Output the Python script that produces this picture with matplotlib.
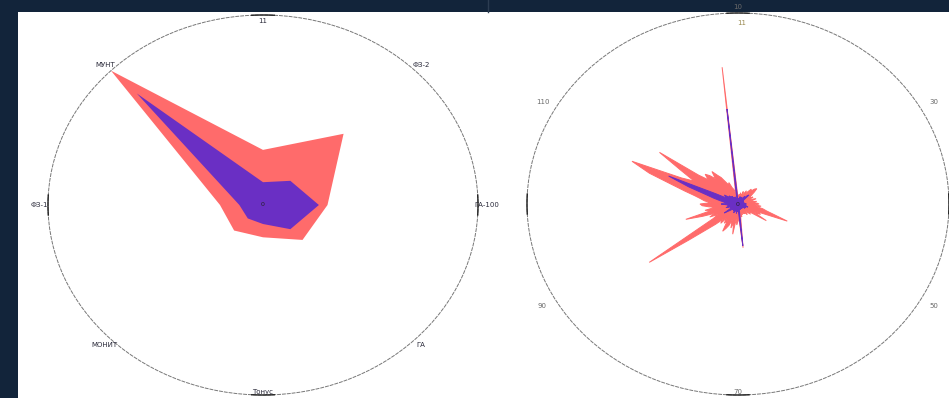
import numpy as np
import matplotlib.pyplot as plt
from matplotlib.patches import Rectangle
from matplotlib.lines import Line2D

# left radar: 8 axes
left_labels = ['11', 'ФЗ-2', 'ГА-100', 'ГА', 'Тонус', 'МОНИТ', 'ФЗ-1', 'МУНТ']
left_red = [29, 53, 30, 26, 17, 19, 20, 100]
left_purple = [12, 18, 26, 18, 10, 10, 11, 83]

# right radar: 120 axes
right_labels = {0: '10', 20: '30', 40: '50', 60: '70', 80: '90', 100: '110'}
right_red = [
    0.04, 0.03, 0.05, 0.04, 0.06, 0.05, 0.04, 0.07, 0.05, 0.06,
    0.08, 0.06, 0.08, 0.10, 0.09, 0.11, 0.12, 0.10, 0.08, 0.07,
    0.06, 0.08, 0.05, 0.07, 0.09, 0.07, 0.06, 0.09, 0.07, 0.09,
    0.10, 0.08, 0.11, 0.09, 0.12, 0.14, 0.18, 0.25, 0.10, 0.12,
    0.09, 0.16, 0.08, 0.06, 0.08, 0.06, 0.05, 0.07, 0.06, 0.05,
    0.06, 0.04, 0.05, 0.06, 0.05, 0.07, 0.06, 0.09, 0.23, 0.07,
    0.09, 0.11, 0.08, 0.16, 0.10, 0.13, 0.09, 0.12, 0.14, 0.16,
    0.10, 0.12, 0.09, 0.13, 0.11, 0.15, 0.20, 0.30, 0.52, 0.14,
    0.11, 0.15, 0.12, 0.18, 0.26, 0.13, 0.16, 0.11, 0.14, 0.17,
    0.18, 0.13, 0.16, 0.18, 0.21, 0.26, 0.33, 0.45, 0.55, 0.30,
    0.24, 0.32, 0.46, 0.24, 0.19, 0.22, 0.20, 0.17, 0.21, 0.18,
    0.16, 0.13, 0.11, 0.12, 0.09, 0.08, 0.06, 0.09, 0.72, 0.06,
]
right_purple = [
    0.03, 0.02, 0.03, 0.02, 0.03, 0.04, 0.03, 0.02, 0.03, 0.04,
    0.03, 0.02, 0.04, 0.05, 0.04, 0.06, 0.07, 0.04, 0.03, 0.02,
    0.03, 0.02, 0.02, 0.03, 0.02, 0.03, 0.02, 0.03, 0.02, 0.03,
    0.04, 0.03, 0.02, 0.03, 0.04, 0.03, 0.05, 0.04, 0.03, 0.04,
    0.03, 0.04, 0.03, 0.02, 0.03, 0.02, 0.03, 0.02, 0.03, 0.02,
    0.03, 0.02, 0.03, 0.02, 0.03, 0.02, 0.03, 0.05, 0.22, 0.04,
    0.03, 0.04, 0.03, 0.05, 0.03, 0.04, 0.03, 0.04, 0.05, 0.04,
    0.03, 0.04, 0.03, 0.04, 0.03, 0.04, 0.05, 0.06, 0.08, 0.04,
    0.03, 0.04, 0.03, 0.05, 0.06, 0.04, 0.05, 0.04, 0.05, 0.06,
    0.08, 0.05, 0.06, 0.07, 0.09, 0.12, 0.16, 0.25, 0.36, 0.12,
    0.06, 0.07, 0.08, 0.06, 0.05, 0.06, 0.05, 0.04, 0.05, 0.04,
    0.04, 0.03, 0.03, 0.04, 0.03, 0.03, 0.02, 0.05, 0.50, 0.03,
]

red = '#ff6b6b'
purple = '#6a2fc4'

fig = plt.figure(figsize=(9.49, 3.98), dpi=100)
fig.patch.set_facecolor('#12243a')
fig.add_artist(Rectangle((18 / 949, 0), 931 / 949, 386 / 398, transform=fig.transFigure,
                         facecolor='white', edgecolor='none', zorder=0))
fig.add_artist(Line2D([488 / 949, 488 / 949], [386 / 398, 1], transform=fig.transFigure,
                      color='#2c3d52', lw=1))


def radar(rect, vals_red, vals_purple, rmax, edge):
    ax = fig.add_axes(rect, projection='polar')
    ax.set_aspect('auto')
    ax.set_facecolor('none')
    ax.set_theta_zero_location('N')
    ax.set_theta_direction(-1)
    n = len(vals_red)
    th = np.deg2rad(np.arange(n) * 360.0 / n)
    th = np.append(th, th[0])
    ax.fill(th, np.append(vals_red, vals_red[0]), facecolor=red, edgecolor=red,
            lw=edge, zorder=2)
    ax.fill(th, np.append(vals_purple, vals_purple[0]), facecolor=purple, edgecolor=purple,
            lw=edge, zorder=3)
    ax.set_ylim(0, rmax)
    ax.grid(False)
    ax.set_xticks([])
    ax.set_yticks([])
    sp = ax.spines['polar']
    sp.set_linestyle((0, (3, 2)))
    sp.set_linewidth(0.7)
    sp.set_edgecolor('#777777')
    # solid bits of the rim at the four main directions
    for a in [0, 90, 180, 270]:
        seg = np.deg2rad(np.linspace(a - 3, a + 3, 10))
        ax.plot(seg, np.full(10, rmax), color='#222222', lw=1.0, zorder=4, clip_on=False)
    ax.text(0, 0, '0', fontsize=4.5, color='#222222', ha='center', va='center', zorder=5)
    return ax, n


axl, nl = radar([48 / 949, 3 / 398, 430 / 949, 380 / 398], left_red, left_purple, 100, 0)
for i, lab in enumerate(left_labels):
    ang = np.deg2rad(i * 360.0 / nl)
    r = 104
    if i == 0:
        r = 97
    if i == 4:
        r = 98.5
    axl.text(ang, r, lab, fontsize=5, color='#2a2a3a', ha='center', va='center')

axr, nr = radar([527 / 949, 3 / 398, 422 / 949, 382 / 398], right_red, right_purple, 1.0, 0.7)
for i, lab in right_labels.items():
    ang = np.deg2rad(i * 360.0 / nr)
    r = 1.07
    if i == 0:
        r = 1.03
    if i == 60:
        r = 0.985
    axr.text(ang, r, lab, fontsize=5, color='#6a6a6a', ha='center', va='center')
axr.text(np.deg2rad(1), 0.95, '11', fontsize=5, color='#9a8a50', ha='center', va='center')

fig.savefig('out.png', dpi=100, facecolor=fig.get_facecolor())
